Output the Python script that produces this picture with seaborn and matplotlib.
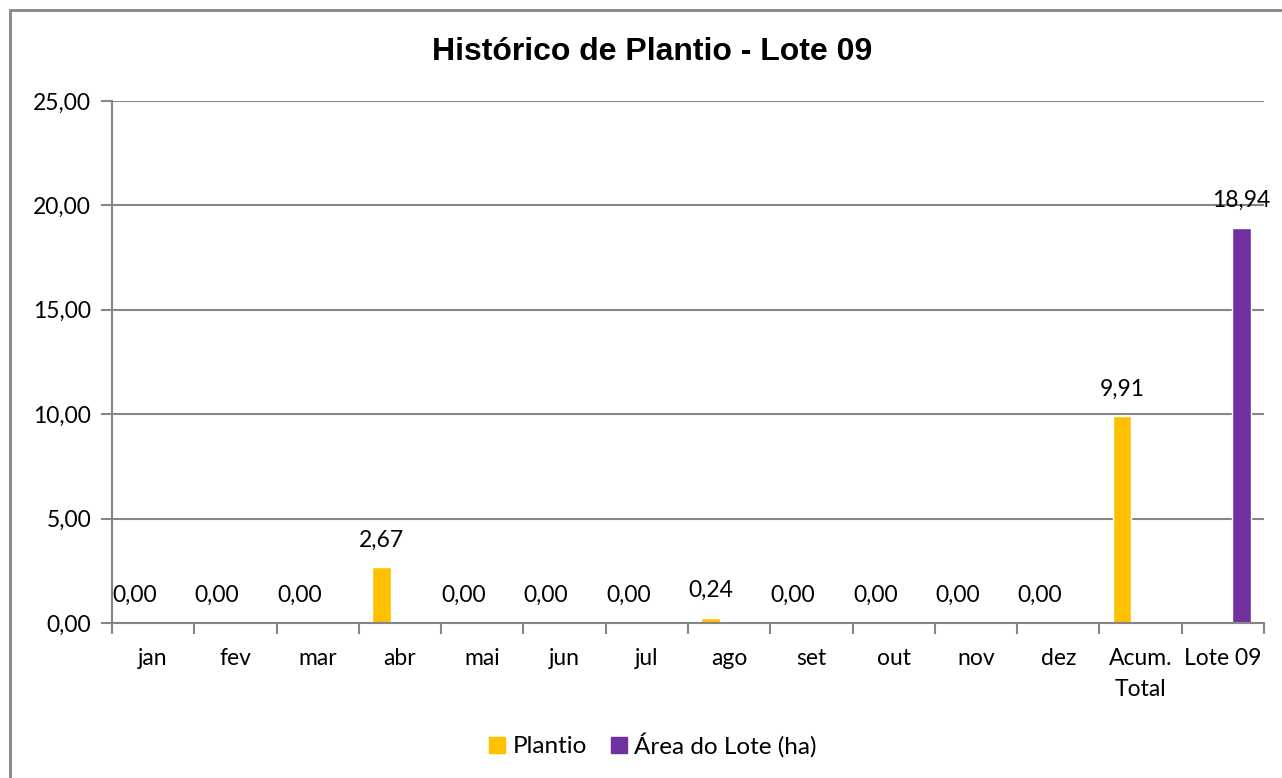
import matplotlib
matplotlib.use("Agg")
import matplotlib.pyplot as plt
import matplotlib.patches as mpatches
import seaborn as sns
import pandas as pd
import numpy as np

categories = ["jan", "fev", "mar", "abr", "mai", "jun", "jul", "ago", "set",
              "out", "nov", "dez", "Acum.\nTotal", "Lote 09"]
plantio = [0.00, 0.00, 0.00, 2.67, 0.00, 0.00, 0.00, 0.24, 0.00, 0.00, 0.00, 0.00, 9.91]
area_cats = ["Lote 09"]
area_lote = [18.94]
series = ["Plantio", "Área do Lote (ha)"]
colors = ["#FFC000", "#7030A0"]
yticks = [0, 5, 10, 15, 20, 25]

df = pd.concat([
    pd.DataFrame({"cat": categories[:len(plantio)], "serie": series[0], "valor": plantio}),
    pd.DataFrame({"cat": area_cats, "serie": series[1], "valor": area_lote}),
], ignore_index=True)

sns.set_theme(style="white")
plt.rcParams["font.family"] = ["Lato", "DejaVu Sans"]
plt.rcParams["text.color"] = "black"
plt.rcParams["xtick.labelcolor"] = "black"
plt.rcParams["ytick.labelcolor"] = "black"

gray = "#868686"
fs = 16.5
fig = plt.figure(figsize=(12.82, 7.78), dpi=100)
ax = fig.add_axes([112 / 1282, 1 - 623 / 778, (1264 - 112) / 1282, (623 - 101) / 778])

sns.barplot(data=df, x="cat", y="valor", hue="serie", order=categories,
            hue_order=series, palette=colors, width=0.9, gap=0.5, dodge=True,
            legend=False, ax=ax, saturation=1, errorbar=None)

fmt = lambda v: f"{v:.2f}".replace(".", ",")
for cont in ax.containers:
    ax.bar_label(cont, labels=[fmt(b.get_height()) for b in cont],
                 padding=12, fontsize=fs, color="black", clip_on=False)

ax.set_ylim(0, 25)
ax.set_xlim(-0.5, len(categories) - 0.5)
ax.set_yticks(yticks)
ax.set_yticklabels([fmt(v) for v in yticks], fontsize=fs)
ax.yaxis.grid(True, color=gray, linewidth=1.5)
ax.set_axisbelow(True)
ax.tick_params(axis="y", length=8, width=1.5, color=gray, left=True, pad=7)

ax.set_xticks(np.arange(len(categories)))
ax.set_xticklabels(categories, fontsize=fs, linespacing=1.6, va="top")
ax.set_xticks(np.arange(len(categories) + 1) - 0.5, minor=True)
ax.tick_params(axis="x", which="major", length=0, pad=18)
ax.tick_params(axis="x", which="minor", length=8, width=1.5, color=gray, bottom=True)
ax.set_xlabel("")
ax.set_ylabel("")

for s in ["top", "right"]:
    ax.spines[s].set_visible(False)
for s in ["left", "bottom"]:
    ax.spines[s].set_color(gray)
    ax.spines[s].set_linewidth(1.5)

fig.suptitle("Histórico de Plantio - Lote 09", x=(432 + 872) / 2 / 1282, y=1 - 52 / 778,
             va="center", fontsize=23, fontweight="bold", family="Liberation Sans",
             color="black")

handles = [mpatches.Patch(color=c, label=s) for c, s in zip(colors, series)]
fig.legend(handles=handles, loc="center", bbox_to_anchor=(653 / 1282, 1 - 745 / 778), ncol=2,
           frameon=False, fontsize=17.5, handlelength=0.65, handleheight=0.65,
           handletextpad=0.3, columnspacing=1.0)

fig.add_artist(mpatches.Rectangle((10 / 1282, -0.01), 1.0, 1 - 10 / 778 + 0.01,
                                  transform=fig.transFigure, fill=False,
                                  edgecolor=gray, linewidth=2))

fig.savefig("out.png", dpi=100)
